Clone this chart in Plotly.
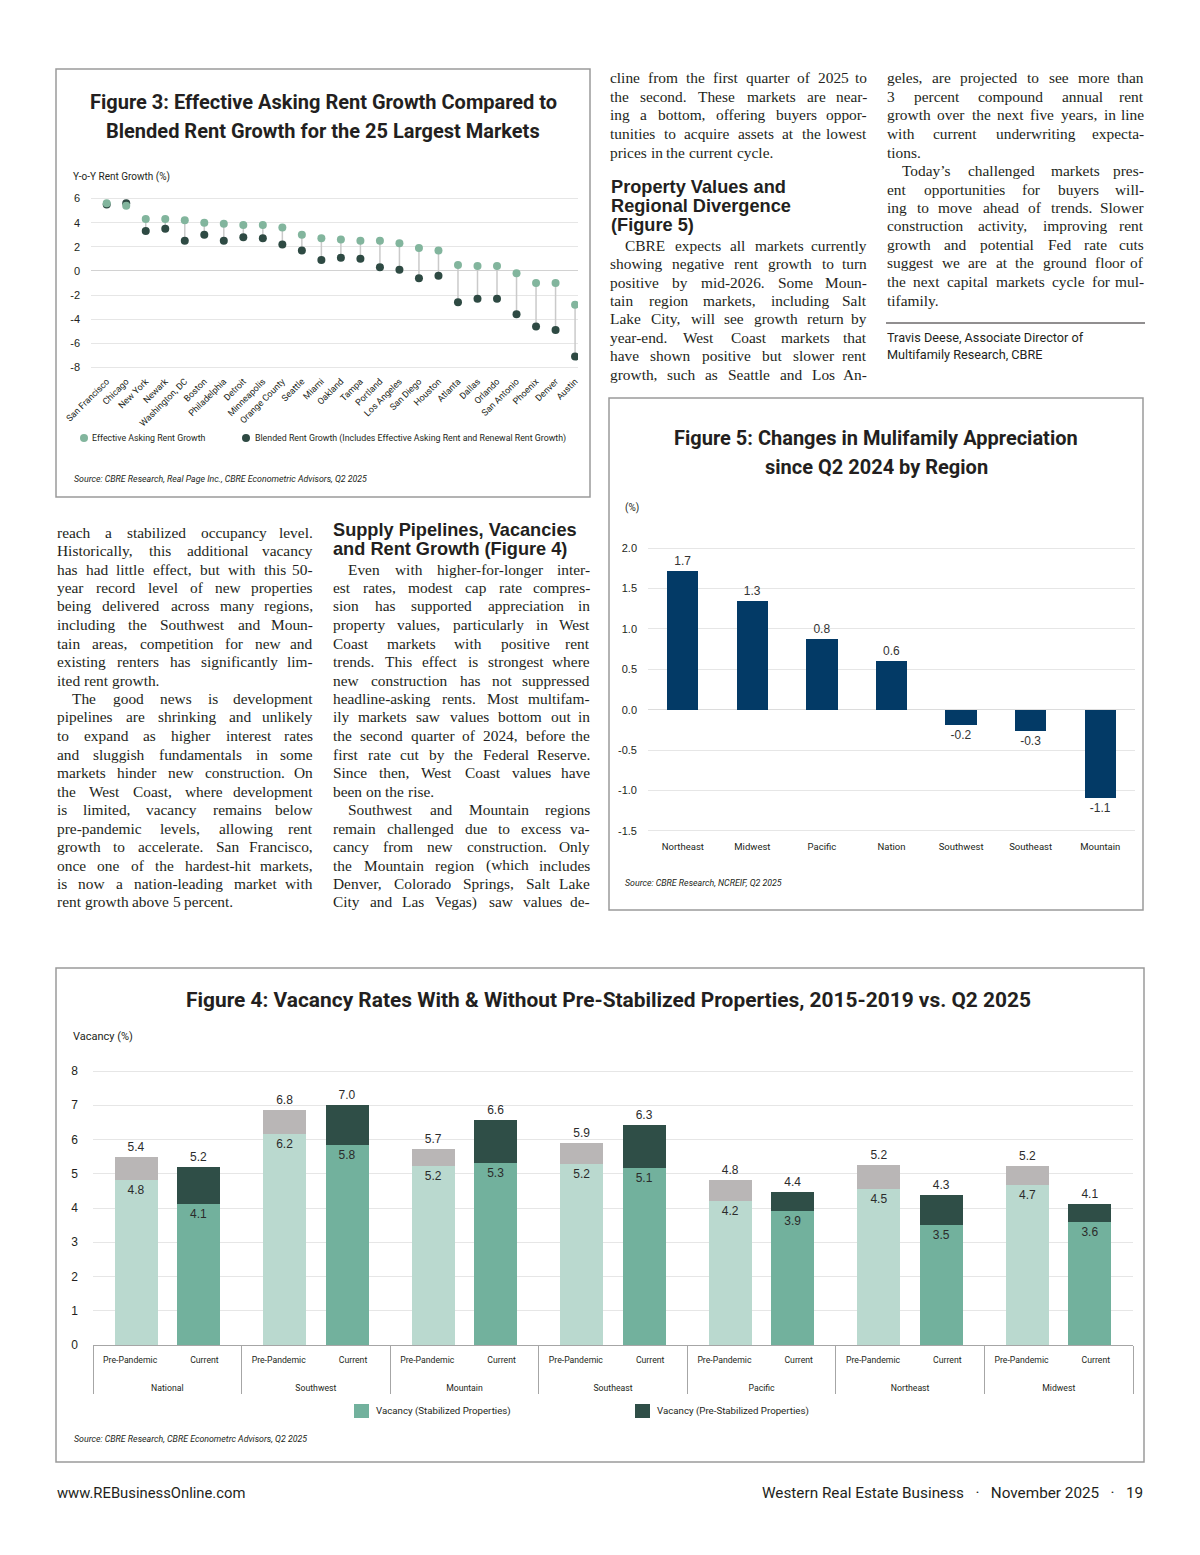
import plotly.graph_objects as go

# page is drawn inside the browser's default 8px body margin
OFF = 8
W, H = 1200 - OFF, 1555 - OFF
TXT = "#231f20"
NARROW = "Roboto, Liberation Sans, Arial, sans-serif"
SANS = "Liberation Sans, Arial, Helvetica, sans-serif"
SERIF = "Liberation Serif, Times New Roman, serif"

# ---------------- Figure 3 data ----------------
markets = ["San Francisco", "Chicago", "New York", "Newark", "Washington, DC", "Boston",
           "Philadelphia", "Detroit", "Minneapolis", "Orange County", "Seattle", "Miami",
           "Oakland", "Tampa", "Portland", "Los Angeles", "San Diego", "Houston", "Atlanta",
           "Dallas", "Orlando", "San Antonio", "Phoenix", "Denver", "Austin"]
effective = [5.6, 5.4, 4.3, 4.3, 4.2, 4.0, 3.9, 3.8, 3.8, 3.6, 3.0, 2.7, 2.6, 2.5, 2.5,
             2.3, 1.9, 1.7, 0.5, 0.4, 0.4, -0.2, -1.0, -1.0, -2.8]
blended = [5.5, 5.6, 3.3, 3.5, 2.5, 3.0, 2.5, 2.8, 2.7, 2.2, 1.7, 0.9, 1.1, 1.0, 0.3,
           0.1, -0.6, -0.4, -2.6, -2.3, -2.3, -3.6, -4.6, -4.9, -7.1]
fig3_ticks = [6, 4, 2, 0, -2, -4, -6, -8]

# ---------------- Figure 5 data ----------------
regions5 = ["Northeast", "Midwest", "Pacific", "Nation", "Southwest", "Southeast", "Mountain"]
apprec = [1.72, 1.34, 0.87, 0.60, -0.19, -0.26, -1.09]
apprec_labels = ["1.7", "1.3", "0.8", "0.6", "-0.2", "-0.3", "-1.1"]
fig5_ticks = [2.0, 1.5, 1.0, 0.5, 0.0, -0.5, -1.0, -1.5]

# ---------------- Figure 4 data ----------------
regions4 = ["National", "Southwest", "Mountain", "Southeast", "Pacific", "Northeast", "Midwest"]
periods = ["Pre-Pandemic", "Current"]
pre_total = [5.5, 6.87, 5.71, 5.89, 4.81, 5.27, 5.24]
pre_stab = [4.81, 6.17, 5.23, 5.28, 4.21, 4.55, 4.67]
cur_total = [5.19, 7.0, 6.56, 6.43, 4.48, 4.38, 4.12]
cur_stab = [4.12, 5.83, 5.32, 5.16, 3.91, 3.51, 3.58]
pre_total_lbl = ["5.4", "6.8", "5.7", "5.9", "4.8", "5.2", "5.2"]
pre_stab_lbl = ["4.8", "6.2", "5.2", "5.2", "4.2", "4.5", "4.7"]
cur_total_lbl = ["5.2", "7.0", "6.6", "6.3", "4.4", "4.3", "4.1"]
cur_stab_lbl = ["4.1", "5.8", "5.3", "5.1", "3.9", "3.5", "3.6"]

# ---------------- Article text ----------------
col1 = [
    (False, True, ["reach a stabilized occupancy level.", "Historically, this additional vacancy",
                   "has had little effect, but with this 50-", "year record level of new properties",
                   "being delivered across many regions,", "including the Southwest and Moun-",
                   "tain areas, competition for new and", "existing renters has significantly lim-",
                   "ited rent growth."]),
    (True, True, ["The good news is development", "pipelines are shrinking and unlikely",
                  "to expand as higher interest rates", "and sluggish fundamentals in some",
                  "markets hinder new construction. On", "the West Coast, where development",
                  "is limited, vacancy remains below", "pre-pandemic levels, allowing rent",
                  "growth to accelerate. San Francisco,", "once one of the hardest-hit markets,",
                  "is now a nation-leading market with", "rent growth above 5 percent."]),
]
col2 = [
    (True, True, ["Even with higher-for-longer inter-", "est rates, modest cap rate compres-",
                  "sion has supported appreciation in", "property values, particularly in West",
                  "Coast markets with positive rent", "trends. This effect is strongest where",
                  "new construction has not suppressed", "headline-asking rents. Most multifam-",
                  "ily markets saw values bottom out in", "the second quarter of 2024, before the",
                  "first rate cut by the Federal Reserve.", "Since then, West Coast values have",
                  "been on the rise."]),
    (True, False, ["Southwest and Mountain regions", "remain challenged due to excess va-",
                   "cancy from new construction. Only", "the Mountain region (which includes",
                   "Denver, Colorado Springs, Salt Lake", "City and Las Vegas) saw values de-"]),
]
col3a = [
    (False, True, ["cline from the first quarter of 2025 to", "the second. These markets are near-",
                   "ing a bottom, offering buyers oppor-", "tunities to acquire assets at the lowest",
                   "prices in the current cycle."]),
]
col3b = [
    (True, False, ["CBRE expects all markets currently", "showing negative rent growth to turn",
                   "positive by mid-2026. Some Moun-", "tain region markets, including Salt",
                   "Lake City, will see growth return by", "year-end. West Coast markets that",
                   "have shown positive but slower rent", "growth, such as Seattle and Los An-"]),
]
col4 = [
    (False, True, ["geles, are projected to see more than", "3 percent compound annual rent",
                   "growth over the next five years, in line", "with current underwriting expecta-",
                   "tions."]),
    (True, True, ["Today\u2019s challenged markets pres-", "ent opportunities for buyers will-",
                  "ing to move ahead of trends. Slower", "construction activity, improving rent",
                  "growth and potential Fed rate cuts", "suggest we are at the ground floor of",
                  "the next capital markets cycle for mul-", "tifamily."]),
]

# ---------------- helpers ----------------
def px(x):
    return (x - OFF) / W


def py(y):
    return 1 - (y - OFF) / H


annotations = []
shapes = []


def ann(text, x, y, size, family=NARROW, xanchor="left", yanchor="middle", color=TXT):
    annotations.append(dict(text=text, x=px(x), y=py(y), xref="paper", yref="paper",
                            showarrow=False, xanchor=xanchor, yanchor=yanchor,
                            font=dict(size=size, family=family, color=color)))


# Times-compatible advance widths (per 1000 em) for justified layout
_W = {}
for ch, w in zip("abcdefghijklmnopqrstuvwxyz",
                 [444, 500, 444, 500, 444, 333, 500, 500, 278, 278, 500, 278, 778, 500, 500, 500,
                  500, 333, 389, 278, 500, 500, 722, 500, 500, 444]):
    _W[ch] = w
for ch, w in zip("ABCDEFGHIJKLMNOPQRSTUVWXYZ",
                 [722, 667, 667, 722, 611, 556, 722, 722, 333, 389, 722, 611, 889, 722, 722, 556,
                  722, 667, 556, 611, 722, 722, 944, 722, 722, 611]):
    _W[ch] = w
for ch in "0123456789":
    _W[ch] = 500
_W.update({" ": 250, ",": 250, ".": 250, "-": 333, "(": 333, ")": 333, "\u2019": 333,
           ":": 278, ";": 278, "'": 180})


def word_w(word, size):
    return sum(_W.get(c, 500) for c in word) * size / 1000.0


BODY = 15.4


def place_block(paras, x0, x1, y0, dy, size=BODY, indent_px=15):
    i = 0
    for indent, ends, lines in paras:
        for j, line in enumerate(lines):
            y = y0 + i * dy
            i += 1
            words = line.split()
            start = x0 + (indent_px if (indent and j == 0) else 0)
            widths = [word_w(w, size) for w in words]
            justify = not (ends and j == len(lines) - 1)
            if justify and len(words) > 1:
                gap = (x1 - start - sum(widths)) / (len(words) - 1)
            else:
                gap = 250 * size / 1000.0
            x = start
            for k, (w, ww) in enumerate(zip(words, widths)):
                if justify and len(words) > 1 and k == len(words) - 1:
                    ann(w, x1 + 1, y, size, SERIF, xanchor="right")
                else:
                    ann(w, x - 1, y, size, SERIF)
                x += ww + gap


# ---------------- figure ----------------
fig = go.Figure()

# Figure 3: dumbbell
cx, cy = [], []
for m, e, b in zip(markets, effective, blended):
    cx += [m, m, None]
    cy += [e, b, None]
fig.add_trace(go.Scatter(x=cx, y=cy, mode="lines", line=dict(color="#cacaca", width=1.5),
                         xaxis="x", yaxis="y", showlegend=False, hoverinfo="skip"))
fig.add_trace(go.Scatter(x=markets, y=blended, mode="markers", name="Blended Rent Growth",
                         marker=dict(size=8, color="#2e4a43"), xaxis="x", yaxis="y",
                         showlegend=False))
fig.add_trace(go.Scatter(x=markets, y=effective, mode="markers", name="Effective Asking Rent Growth",
                         marker=dict(size=8, color="#82b59d"), xaxis="x", yaxis="y",
                         showlegend=False))

# Figure 5: bars
fig.add_trace(go.Bar(x=regions5, y=apprec, width=0.45, marker=dict(color="#033a66", line=dict(width=0)),
                     text=apprec_labels, textposition="outside", cliponaxis=False,
                     textfont=dict(family=SANS, size=12, color="#333333"),
                     xaxis="x2", yaxis="y2", showlegend=False))

# Figure 4: stacked multicategory bars
xr = ["<br><br>" + r for r in regions4 for _ in periods]
xp = periods * len(regions4)
stab = [v for pair in zip(pre_stab, cur_stab) for v in pair]
tot = [v for pair in zip(pre_total, cur_total) for v in pair]
unstab = [t - s for t, s in zip(tot, stab)]
stab_lbl = [v for pair in zip(pre_stab_lbl, cur_stab_lbl) for v in pair]
tot_lbl = [v for pair in zip(pre_total_lbl, cur_total_lbl) for v in pair]
offs = [-0.29 + 0.08, -0.29 - 0.08] * len(regions4)
fig.add_trace(go.Bar(x=[xr, xp], y=stab, width=0.58, offset=offs,
                     marker=dict(color=["#bad9cf", "#72b19d"] * len(regions4), line=dict(width=0)),
                     text=stab_lbl, textposition="inside", insidetextanchor="end",
                     textfont=dict(family=SANS, size=12, color="#2b2b2b"), constraintext="none",
                     xaxis="x3", yaxis="y3", showlegend=False, name="Vacancy (Stabilized Properties)"))
fig.add_trace(go.Bar(x=[xr, xp], y=unstab, width=0.58, offset=offs,
                     marker=dict(color=["#b9b6b6", "#2f4e47"] * len(regions4), line=dict(width=0)),
                     text=tot_lbl, textposition="outside", cliponaxis=False,
                     textfont=dict(family=SANS, size=12, color="#2b2b2b"), constraintext="none",
                     xaxis="x3", yaxis="y3", showlegend=False, name="Vacancy (Pre-Stabilized Properties)"))

GRID = "#e6e6e6"
fig.update_layout(
    template="none",
    width=W, height=H, margin=dict(l=0, r=0, t=0, b=0, pad=0, autoexpand=False), autosize=False,
    paper_bgcolor="white", plot_bgcolor="rgba(0,0,0,0)",
    font=dict(family=NARROW, color=TXT),
    barmode="stack", showlegend=False,
    xaxis=dict(domain=[px(91), px(578)], anchor="y", type="category", range=[-0.805, 24.15],
               tickangle=-45, tickfont=dict(family=NARROW, size=9, color=TXT), showgrid=False,
               zeroline=False, showline=False, ticks="", ticklabelstandoff=0, automargin=False),
    yaxis=dict(domain=[py(373.5), py(192.5)], anchor="x", range=[-8.5, 6.5],
               tickvals=fig3_ticks, ticktext=[str(v) for v in fig3_ticks],
               tickfont=dict(family=SANS, size=11, color=TXT),
               showgrid=True, gridcolor=GRID, gridwidth=1, zeroline=True, zerolinecolor="#d2d2d2",
               zerolinewidth=1, showline=False, ticks="", ticklabelstandoff=10, automargin=False),
    xaxis2=dict(domain=[px(648), px(1135)], anchor="y2", type="category",
                tickfont=dict(family=NARROW, size=9.5, color=TXT), showgrid=False, zeroline=False,
                showline=False, ticks="", ticklabelstandoff=6, automargin=False),
    yaxis2=dict(domain=[py(833.4), py(545.6)], anchor="x2", range=[-1.53, 2.03],
                tickvals=fig5_ticks, ticktext=["%.1f" % v for v in fig5_ticks],
                tickfont=dict(family=SANS, size=11, color=TXT),
                showgrid=True, gridcolor=GRID, zeroline=True, zerolinecolor="#dcdcdc",
                showline=False, ticks="", ticklabelstandoff=10, automargin=False),
    xaxis3=dict(domain=[px(93), px(1133)], anchor="y3", type="multicategory",
                tickfont=dict(family=NARROW, size=8.7, color=TXT), showgrid=False, zeroline=False,
                showline=True, linecolor="#a6a6a6", linewidth=1, ticks="", ticklabelstandoff=7,
                showdividers=True, dividercolor="#a6a6a6", dividerwidth=1, automargin=False),
    yaxis3=dict(domain=[py(1345), py(1065.9)], anchor="x3", range=[0, 8.15], dtick=1,
                tickfont=dict(family=SANS, size=12, color=TXT), showgrid=True, gridcolor=GRID,
                zeroline=False, showline=False, ticks="", ticklabelstandoff=14, automargin=False),
)

# ---------------- boxes ----------------
for x0, y0, x1, y1 in [(56, 69, 590, 497), (609, 398, 1143, 910), (56, 968, 1144, 1462)]:
    shapes.append(dict(type="rect", xref="paper", yref="paper", x0=px(x0), x1=px(x1),
                       y0=py(y1), y1=py(y0), line=dict(color="#9a9a9a", width=1.5),
                       fillcolor="rgba(0,0,0,0)", layer="below"))

TITLE = 20
# ---------------- Figure 3 text ----------------
ann("<b>Figure 3: Effective Asking Rent Growth Compared to</b>", 323, 102, TITLE, xanchor="center")
ann("<b>Blended Rent Growth for the 25 Largest Markets</b>", 323, 131, TITLE, xanchor="center")
ann("Y-o-Y Rent Growth (%)", 71, 177, 10)
shapes.append(dict(type="circle", xref="paper", yref="paper", x0=px(80), x1=px(88),
                   y0=py(442), y1=py(434), fillcolor="#82b59d", line=dict(width=0)))
ann("Effective Asking Rent Growth", 90, 438, 8.8)
shapes.append(dict(type="circle", xref="paper", yref="paper", x0=px(242), x1=px(250),
                   y0=py(442), y1=py(434), fillcolor="#2e4a43", line=dict(width=0)))
ann("Blended Rent Growth (Includes Effective Asking Rent and Renewal Rent Growth)", 253, 438, 8.8)
ann("<i>Source: CBRE Research, Real Page Inc., CBRE Econometric Advisors, Q2 2025</i>", 72, 479, 8.8)

# ---------------- Figure 5 text ----------------
ann("<b>Figure 5: Changes in Mulifamily Appreciation</b>", 876, 438, TITLE, xanchor="center")
ann("<b>since Q2 2024 by Region</b>", 876, 467, TITLE, xanchor="center")
ann("(%)", 623, 508, 10)
ann("<i>Source: CBRE Research, NCREIF, Q2 2025</i>", 623, 883, 8.8)

# ---------------- Figure 4 text ----------------
ann("<b>Figure 4: Vacancy Rates With &amp; Without Pre-Stabilized Properties, 2015-2019 vs. Q2 2025</b>",
    608, 1000, 20.9, xanchor="center")
ann("Vacancy (%)", 71, 1036, 11)
shapes.append(dict(type="rect", xref="paper", yref="paper", x0=px(354), x1=px(369),
                   y0=py(1418), y1=py(1404), fillcolor="#72b19d", line=dict(width=0)))
ann("Vacancy (Stabilized Properties)", 374, 1411, 9.7)
shapes.append(dict(type="rect", xref="paper", yref="paper", x0=px(635), x1=px(650),
                   y0=py(1418), y1=py(1404), fillcolor="#2f4e47", line=dict(width=0)))
ann("Vacancy (Pre-Stabilized Properties)", 655, 1411, 9.7)
ann("<i>Source: CBRE Research, CBRE Econometrc Advisors, Q2 2025</i>", 72, 1439, 8.8)

# ---------------- article body ----------------
place_block(col1, 56, 314, 532, 18.5)
place_block(col2, 332, 591, 569, 18.5)
place_block(col3a, 609, 868, 78, 18.5)
place_block(col3b, 609, 868, 245, 18.5)
place_block(col4, 886, 1145, 78, 18.5)

HEAD = 18.2
ann("<b>Supply Pipelines, Vacancies</b>", 331, 530, HEAD, SANS)
ann("<b>and Rent Growth (Figure 4)</b>", 331, 549, HEAD, SANS)
ann("<b>Property Values and</b>", 609, 187, HEAD, SANS)
ann("<b>Regional Divergence</b>", 609, 206, HEAD, SANS)
ann("<b>(Figure 5)</b>", 609, 225, HEAD, SANS)

shapes.append(dict(type="line", xref="paper", yref="paper", x0=px(886), x1=px(1145),
                   y0=py(323), y1=py(323), line=dict(color="#231f20", width=1)))
ann("Travis Deese, Associate Director of", 885, 337, 12.7)
ann("Multifamily Research, CBRE", 885, 355, 12.7)

# ---------------- footer ----------------
ann("www.REBusinessOnline.com", 55, 1493, 14.8)
ann("Western Real Estate Business \u00a0\u00a0\u00b7\u00a0\u00a0 November 2025 \u00a0\u00a0\u00b7\u00a0\u00a0 19",
    1145, 1493, 15.3, xanchor="right")

fig.update_layout(annotations=annotations, shapes=shapes)
fig.write_html("out.html")
